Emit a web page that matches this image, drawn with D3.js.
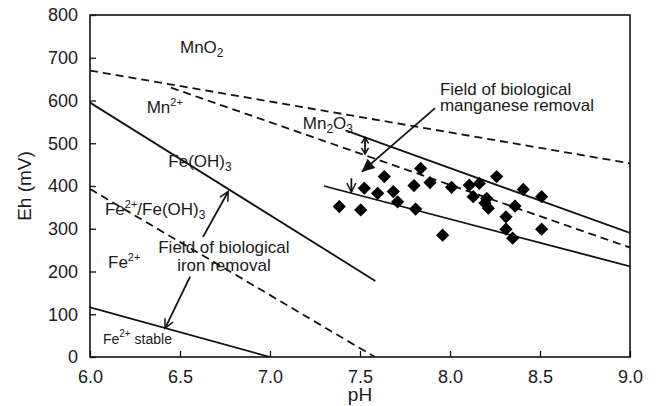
<!DOCTYPE html>
<html>
<head>
<meta charset="utf-8">
<script src="https://cdn.jsdelivr.net/npm/d3@7"></script>
<style>
body { margin: 0; background: #fff; }
text { font-family: "Liberation Sans", Arial, sans-serif; fill: #1a1a1a; }
</style>
</head>
<body>
<svg id="chart" width="662" height="406"></svg>
<script>
// tick values
var xTicks = [6.0, 6.5, 7.0, 7.5, 8.0, 8.5, 9.0];
var yTicks = [0, 100, 200, 300, 400, 500, 600, 700, 800];

// measured samples
var samplePH = [7.385, 7.504, 7.524, 7.598, 7.635, 7.685, 7.709, 7.800, 7.809, 7.837,
	7.889, 7.959, 8.009, 8.107, 8.129, 8.163, 8.204, 8.194, 8.213, 8.259,
	8.311, 8.311, 8.348, 8.361, 8.407, 8.509, 8.509];
var sampleEh = [352, 344, 395, 383, 422, 387, 363, 401, 346, 441,
	408, 285, 397, 402, 375, 406, 371, 360, 348, 422,
	328, 299, 278, 353, 392, 375, 299];

// stability boundaries, [pH, Eh]
var solidLines = [
	[[6.0, 595], [7.585, 178]],
	[[6.0, 116], [7.0, 0]],
	[[7.42, 530], [9.0, 290]],
	[[7.3, 400], [9.0, 212]]
];
var dashedLines = [
	[[6.0, 670], [9.0, 453]],
	[[6.45, 630], [9.0, 256]],
	[[6.0, 393], [7.583, 0]]
];

// field labels: text, pH, Eh (baseline)
var fieldLabels = ["MnO_2", "Mn^2+", "Mn_2O_3", "Fe(OH)_3", "Fe^2+/Fe(OH)_3", "Fe^2+"];
var fieldPH = [6.5, 6.315, 7.182, 6.435, 6.083, 6.1];
var fieldEh = [712, 571, 533, 445, 332, 208];

var noteLines = ["Field of biological", "iron removal", "Field of biological", "manganese removal"];
var notePH = [6.744, 6.744, 7.944, 7.944];
var noteEh = [243, 202, 614, 575];

// arrows: from, to, heads at both ends?
var arrows = [
	{ from: [6.628, 281], to: [6.768, 387], both: false, filled: false, small: false },
	{ from: [6.556, 188], to: [6.417, 67], both: false, filled: false, small: false },
	{ from: [7.528, 475], to: [7.528, 514], both: true, filled: false, small: true },
	{ from: [7.452, 418], to: [7.452, 386], both: false, filled: false, small: false },
	{ from: [7.917, 582], to: [7.509, 433], both: false, filled: true, small: false }
];

var svg = d3.select("#chart");
var mLeft = 90, mRight = 630, mTop = 15, mBottom = 357;

var x = d3.scaleLinear().domain([6, 9]).range([mLeft, mRight]);
var y = d3.scaleLinear().domain([0, 800]).range([mBottom, mTop]);

var defs = svg.append("defs");
defs.append("clipPath").attr("id", "plot")
	.append("rect").attr("x", mLeft).attr("y", mTop)
	.attr("width", mRight - mLeft).attr("height", mBottom - mTop);

// axes
var xAxis = svg.append("g")
	.attr("transform", "translate(0," + mBottom + ")")
	.call(d3.axisBottom(x).tickValues(xTicks).tickSize(-6).tickPadding(13)
		.tickFormat(d3.format(".1f")));
var yAxis = svg.append("g")
	.attr("transform", "translate(" + mLeft + ",0)")
	.call(d3.axisLeft(y).tickValues(yTicks).tickSize(-6).tickPadding(12));

[xAxis, yAxis].forEach(function(a) {
	a.select(".domain").remove();
	a.selectAll("line").attr("stroke", "#111").attr("stroke-width", 1.3);
	a.selectAll("text").attr("font-size", 18).attr("fill", "#1a1a1a");
});

svg.append("rect")
	.attr("x", mLeft).attr("y", mTop)
	.attr("width", mRight - mLeft).attr("height", mBottom - mTop)
	.attr("fill", "none").attr("stroke", "#111").attr("stroke-width", 1.6);

svg.append("text")
	.attr("x", (mLeft + mRight) / 2).attr("y", 401)
	.attr("text-anchor", "middle").attr("font-size", 19)
	.text("pH");
svg.append("text")
	.attr("transform", "translate(31," + (mTop + mBottom) / 2 + ") rotate(-90)")
	.attr("text-anchor", "middle").attr("font-size", 19)
	.text("Eh (mV)");

// boundary lines
var line = d3.line().x(function(d) { return x(d[0]); }).y(function(d) { return y(d[1]); });
var plot = svg.append("g").attr("clip-path", "url(#plot)");

plot.selectAll(".solid").data(solidLines).enter().append("path")
	.attr("class", "solid")
	.attr("d", line)
	.attr("fill", "none").attr("stroke", "#111").attr("stroke-width", 1.8);

plot.selectAll(".dashed").data(dashedLines).enter().append("path")
	.attr("class", "dashed")
	.attr("d", line)
	.attr("fill", "none").attr("stroke", "#111").attr("stroke-width", 1.8)
	.attr("stroke-dasharray", "8,5");

// samples
var diamond = d3.symbol().type(d3.symbolSquare).size(88);
svg.append("g").selectAll("path")
	.data(d3.range(samplePH.length)).enter().append("path")
	.attr("d", diamond)
	.attr("transform", function(i) {
		return "translate(" + x(samplePH[i]) + "," + y(sampleEh[i]) + ") rotate(45)";
	})
	.attr("fill", "#000");

// labels with sub/superscripts
function richText(sel, str, size, subSize) {
	var parts = str.split(/([_^][0-9+]+)/).filter(function(s) { return s.length; });
	var shift = 0;
	parts.forEach(function(p) {
		var t = sel.append("tspan");
		var want = 0, fs = size, txt = p;
		if (p[0] === "_") { want = 4; fs = subSize; txt = p.slice(1); }
		else if (p[0] === "^") { want = -7; fs = subSize - 1; txt = p.slice(1); }
		t.attr("dy", want - shift).attr("font-size", fs).text(txt);
		shift = want;
	});
}

fieldLabels.forEach(function(s, i) {
	var t = svg.append("text")
		.attr("x", x(fieldPH[i])).attr("y", y(fieldEh[i]));
	richText(t, s, 17, 12);
});

var stable = svg.append("text").attr("x", x(6.072)).attr("y", y(30));
richText(stable, "Fe^2+ stable", 14, 11);

noteLines.forEach(function(s, i) {
	svg.append("text")
		.attr("x", x(notePH[i])).attr("y", y(noteEh[i]))
		.attr("text-anchor", i < 2 ? "middle" : "start")
		.attr("font-size", 17)
		.text(s);
});

// arrows
function head(g, tip, from, filled, small) {
	var dx = tip[0] - from[0], dy = tip[1] - from[1];
	var len = Math.sqrt(dx * dx + dy * dy);
	var ux = dx / len, uy = dy / len;
	var L = filled ? 13 : (small ? 6 : 9), W = filled ? 6 : (small ? 3.5 : 4.5);
	var bx = tip[0] - ux * L, by = tip[1] - uy * L;
	var p1 = [bx - uy * W, by + ux * W], p2 = [bx + uy * W, by - ux * W];
	if (filled) {
		g.append("path")
			.attr("d", "M" + p1 + "L" + tip + "L" + p2 + "Z")
			.attr("fill", "#111");
	} else {
		g.append("path")
			.attr("d", "M" + p1 + "L" + tip + "L" + p2)
			.attr("fill", "none").attr("stroke", "#111").attr("stroke-width", 1.5);
	}
}

var arrowG = svg.append("g");
arrows.forEach(function(a) {
	var p0 = [x(a.from[0]), y(a.from[1])], p1 = [x(a.to[0]), y(a.to[1])];
	arrowG.append("line")
		.attr("x1", p0[0]).attr("y1", p0[1]).attr("x2", p1[0]).attr("y2", p1[1])
		.attr("stroke", "#111").attr("stroke-width", 1.8);
	head(arrowG, p1, p0, a.filled, a.small);
	if (a.both) head(arrowG, p0, p1, a.filled, a.small);
});
</script>
</body>
</html>
